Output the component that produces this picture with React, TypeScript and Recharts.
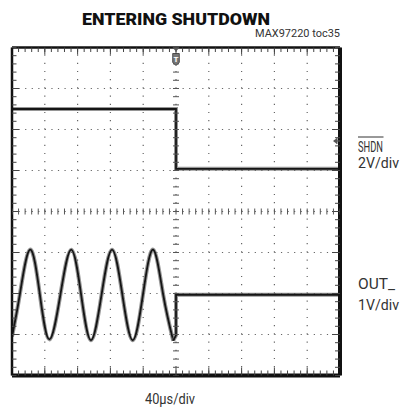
import React from 'react';
import {
  ComposedChart,
  Line,
  Scatter,
  XAxis,
  YAxis,
  ReferenceLine,
  ReferenceDot,
} from 'recharts';

// time in µs (40µs/div, trigger at 0), level in divisions from centre
const shdnT = [-200, 0, 0, 200];
const shdnV = [2.5, 2.5, 1.04, 1.04];

const outT = [-200, -190.5, -178, -166, -154.4, -141, -127.8, -115.7, -103.7, -90.8, -78, -65.4, -52.8, -40.3, -27.9, -15.6, -3.4];
const outV = [-3.05, -2.03, -0.93, -2.03, -3.12, -2.03, -0.93, -2.03, -3.14, -2.03, -0.93, -2.03, -3.14, -2.03, -0.93, -2.03, -3.15];

const offT = [-3.4, 0, 0, 200];
const offV = [-3.15, -3.02, -2.03, -2.03];

const divX = [-160, -120, -80, -40, 0, 40, 80, 120, 160];
const divY = [-3, -2, -1, 0, 1, 2, 3];
const minorX = Array.from({ length: 51 }, (_, i) => -200 + 8 * i);
const minorY = Array.from({ length: 41 }, (_, i) => Math.round((-4 + 0.2 * i) * 10) / 10);

const trigLevel = 1.72;

const zip = (t: number[], v: number[]) => t.map((x, i) => ({ t: x, v: v[i] }));
const shdnData = zip(shdnT, shdnV);
const outData = zip(outT, outV);
const offData = zip(offT, offV);
const centreTicks = [
  ...minorX.map((t) => ({ t, v: 0, k: 'h' })),
  ...minorY.map((v) => ({ t: 0, v, k: 'v' })),
];

const trace = '#151515';
const fuzz = '#6a6a6a';
const tickL = { stroke: '#444', strokeWidth: 1 };
const font = "Roboto, 'Liberation Sans', Arial, sans-serif";

const NoLabel = () => <g />;

const CentreTick = ({ cx, cy, payload }: any) =>
  payload && payload.k === 'v' ? (
    <line x1={cx - 3} x2={cx + 3} y1={cy} y2={cy} stroke="#555" strokeWidth={1} />
  ) : (
    <line x1={cx} x2={cx} y1={cy - 3} y2={cy + 3} stroke="#555" strokeWidth={1} />
  );

const TrigMark = ({ cx, cy }: any) => (
  <g>
    <path d={`M${cx - 3.5},${cy} L${cx + 3.5},${cy} L${cx},${cy + 4} Z`} fill="#555" />
    <path
      d={`M${cx - 3.3},${cy + 6} h6.6 v9 l-3.3,3 l-3.3,-3 Z`}
      fill="#777"
      stroke="#333"
      strokeWidth={0.8}
    />
    <text x={cx} y={cy + 14} fontSize={8} fontWeight="bold" fill="#fff" textAnchor="middle" fontFamily={font}>
      T
    </text>
  </g>
);

const LevelMark = ({ cx, cy }: any) => (
  <g>
    <path d={`M${cx - 7},${cy} L${cx - 3},${cy - 3} L${cx - 3},${cy + 3} Z`} fill="#555" />
    <line x1={cx - 3} x2={cx} y1={cy} y2={cy} stroke="#555" strokeWidth={1.2} />
    <line x1={cx - 3} x2={cx - 3} y1={cy - 3} y2={cy + 3} stroke="#555" strokeWidth={1} />
  </g>
);

const axisCommon = {
  type: 'number' as const,
  interval: 0 as const,
  tick: NoLabel,
  tickLine: tickL,
  mirror: true,
  allowDataOverflow: true,
};

export default function App() {
  return (
    <div style={{ position: 'absolute', left: 0, top: 0, width: 401, height: 408, background: '#fff' }}>
      <ComposedChart width={401} height={408} margin={{ top: 47.5, left: 12, right: 61, bottom: 32.5 }}>
        {divX.map((x) => (
          <ReferenceLine key={'x' + x} x={x} stroke="#666" strokeWidth={1.2} strokeDasharray="1.2 7" />
        ))}
        {divY.map((y) => (
          <ReferenceLine key={'y' + y} y={y} stroke="#666" strokeWidth={1.2} strokeDasharray="1.2 5.36" />
        ))}
        <XAxis {...axisCommon} dataKey="t" height={1} domain={[-200, 200]} ticks={minorX} tickSize={5} axisLine={{ stroke: '#111', strokeWidth: 4 }} />
        <XAxis {...axisCommon} xAxisId="bottomMaj" height={1} dataKey="t" domain={[-200, 200]} ticks={divX} tickSize={7} axisLine={false} />
        <XAxis {...axisCommon} xAxisId="top" orientation="top" height={1} dataKey="t" domain={[-200, 200]} ticks={minorX} tickSize={4.5} axisLine={{ stroke: '#111', strokeWidth: 2.5 }} />
        <XAxis {...axisCommon} xAxisId="topMaj" orientation="top" height={1} dataKey="t" domain={[-200, 200]} ticks={divX} tickSize={6} axisLine={false} />
        <YAxis {...axisCommon} dataKey="v" width={1} domain={[-4, 4]} ticks={minorY} tickSize={4.5} axisLine={{ stroke: '#111', strokeWidth: 2.5 }} />
        <YAxis {...axisCommon} yAxisId="leftMaj" width={1} dataKey="v" domain={[-4, 4]} ticks={divY} tickSize={6} axisLine={false} />
        <YAxis {...axisCommon} yAxisId="right" orientation="right" width={1} dataKey="v" domain={[-4, 4]} ticks={minorY} tickSize={5} axisLine={{ stroke: '#111', strokeWidth: 4 }} />
        <YAxis {...axisCommon} yAxisId="rightMaj" orientation="right" width={1} dataKey="v" domain={[-4, 4]} ticks={divY} tickSize={7} axisLine={false} />
        <Scatter data={centreTicks} isAnimationActive={false} shape={CentreTick} />
        <Line data={shdnData} dataKey="v" type="linear" stroke={fuzz} strokeOpacity={0.7} strokeWidth={4} dot={false} isAnimationActive={false} />
        <Line data={shdnData} dataKey="v" type="linear" stroke={trace} strokeWidth={1.8} dot={false} isAnimationActive={false} />
        <Line data={outData} dataKey="v" type="natural" stroke={fuzz} strokeOpacity={0.7} strokeWidth={4} dot={false} isAnimationActive={false} />
        <Line data={outData} dataKey="v" type="natural" stroke={trace} strokeWidth={1.8} dot={false} isAnimationActive={false} />
        <Line data={offData} dataKey="v" type="linear" stroke={fuzz} strokeOpacity={0.7} strokeWidth={4} dot={false} isAnimationActive={false} />
        <Line data={offData} dataKey="v" type="linear" stroke={trace} strokeWidth={1.8} dot={false} isAnimationActive={false} />
        <ReferenceDot x={0} y={4} r={0} shape={TrigMark} ifOverflow="visible" />
        <ReferenceDot x={200} y={trigLevel} r={0} shape={LevelMark} ifOverflow="visible" />
      </ComposedChart>
      <svg width={401} height={408} style={{ position: 'absolute', left: 0, top: 0, pointerEvents: 'none' }}>
        <text x={82} y={25} fontSize={17} fontWeight={900} fill="#111" fontFamily={font} textLength={188} lengthAdjust="spacingAndGlyphs">
          ENTERING SHUTDOWN
        </text>
        <text x={255} y={37} fontSize={10} fill="#333" fontFamily={font} textLength={85} lengthAdjust="spacingAndGlyphs">
          MAX97220 toc35
        </text>
        <line x1={358} x2={383.5} y1={137} y2={137} stroke="#333" strokeWidth={1} />
        <text x={358} y={151.5} fontSize={14} fill="#333" fontFamily={font} textLength={25} lengthAdjust="spacingAndGlyphs">
          SHDN
        </text>
        <text x={358} y={168} fontSize={14} fill="#333" fontFamily={font} textLength={41} lengthAdjust="spacingAndGlyphs">
          2V/div
        </text>
        <text x={358} y={289} fontSize={14} fill="#333" fontFamily={font} textLength={37} lengthAdjust="spacingAndGlyphs">
          OUT_
        </text>
        <text x={358} y={310} fontSize={14} fill="#333" fontFamily={font} textLength={41} lengthAdjust="spacingAndGlyphs">
          1V/div
        </text>
        <text x={145} y={404} fontSize={15} fill="#333" fontFamily={font} textLength={50} lengthAdjust="spacingAndGlyphs">
          40µs/div
        </text>
      </svg>
    </div>
  );
}
